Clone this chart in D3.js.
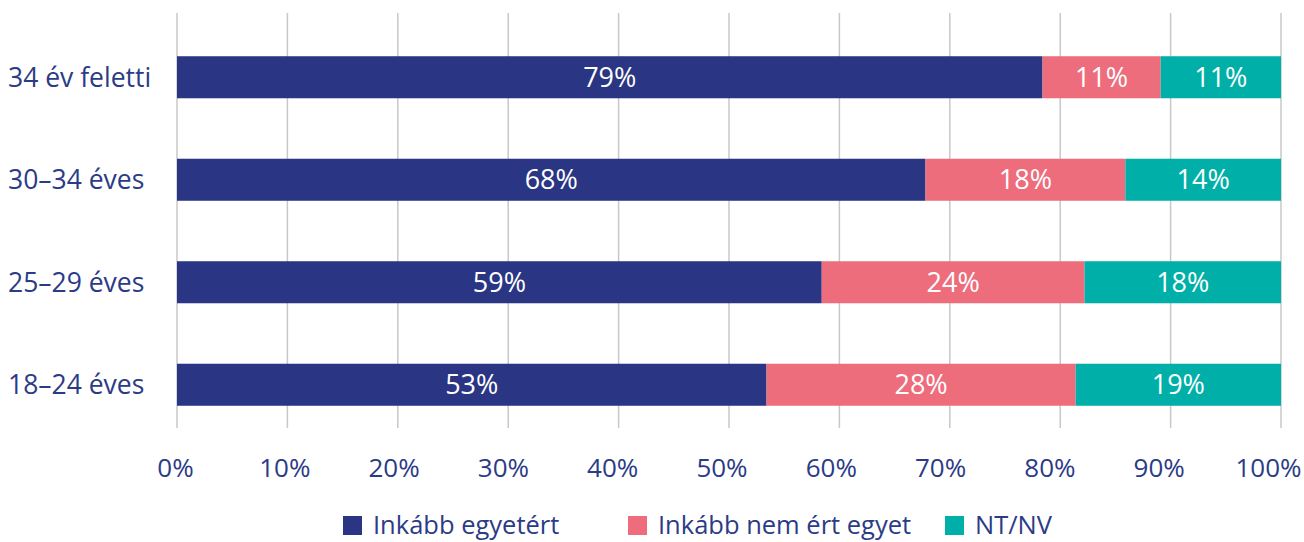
<!DOCTYPE html>
<html>
<head>
<meta charset="utf-8">
<script src="https://cdn.jsdelivr.net/npm/d3@7"></script>
<style>
  body { margin: 0; background: #fff; }
  text { font-family: "Open Sans", Lato, sans-serif; font-weight: 400; }
</style>
</head>
<body>
<svg id="chart"></svg>
<script>
// data (segment widths in %, labels as printed)
const categories = ['34 év feletti', '30–34 éves', '25–29 éves', '18–24 éves'];
const seriesNames = ['Inkább egyetért', 'Inkább nem ért egyet', 'NT/NV'];
const agree = [78.4, 67.8, 58.4, 53.4];
const disagree = [10.7, 18.1, 23.8, 28.0];
const dontKnow = [10.9, 14.1, 17.8, 18.6];
const agreeLabels = ['79%', '68%', '59%', '53%'];
const disagreeLabels = ['11%', '18%', '24%', '28%'];
const dontKnowLabels = ['11%', '14%', '18%', '19%'];
const tickValues = [0, 10, 20, 30, 40, 50, 60, 70, 80, 90, 100];

const colors = ['#2a3583', '#ed6d7d', '#00b0a8'];
const textColor = '#2b3b86';

const width = 1304, height = 542;
const svg = d3.select('#chart').attr('width', width).attr('height', height);

const x = d3.scaleLinear().domain([0, 100]).range([177, 1281]);
// tick labels sit slightly tighter than the gridlines so 100% fits
const xLabel = d3.scaleLinear().domain([0, 100]).range([175, 1268]);
const y = d3.scaleBand().domain(categories).range([26, 436])
    .paddingInner(0.59).paddingOuter(0.295);

// vertical gridlines
svg.append('g').selectAll('line')
    .data(tickValues)
    .join('line')
    .attr('x1', d => x(d)).attr('x2', d => x(d))
    .attr('y1', 13).attr('y2', 428)
    .attr('stroke', '#c8c8c8')
    .attr('stroke-width', 1.5);

// stacked rows
const rows = categories.map((c, i) => ({
    cat: c,
    vals: [agree[i], disagree[i], dontKnow[i]],
    labels: [agreeLabels[i], disagreeLabels[i], dontKnowLabels[i]]
}));

const segs = [];
rows.forEach(r => {
    let start = 0;
    r.vals.forEach((v, k) => {
        segs.push({cat: r.cat, x0: start, x1: start + v, k: k, label: r.labels[k]});
        start += v;
    });
});

svg.append('g').selectAll('rect')
    .data(segs)
    .join('rect')
    .attr('x', d => x(d.x0))
    .attr('y', d => y(d.cat))
    .attr('width', d => x(d.x1) - x(d.x0))
    .attr('height', y.bandwidth())
    .attr('fill', d => colors[d.k]);

svg.append('g').selectAll('text')
    .data(segs)
    .join('text')
    .attr('x', d => (x(d.x0) + x(d.x1)) / 2)
    .attr('y', d => y(d.cat) + y.bandwidth() / 2)
    .attr('dy', '0.36em')
    .attr('text-anchor', 'middle')
    .attr('fill', '#fff')
    .style('font-size', '27px')
    .text(d => d.label);

// category labels
svg.append('g').selectAll('text')
    .data(categories)
    .join('text')
    .attr('x', 8)
    .attr('y', d => y(d) + y.bandwidth() / 2)
    .attr('dy', '0.36em')
    .attr('fill', textColor)
    .style('font-size', '26.5px')
    .text(d => d);

// x axis labels
const xAxis = d3.axisBottom(xLabel).tickValues(tickValues).tickFormat(d => d + '%').tickSize(0).tickPadding(0);
const gx = svg.append('g').attr('transform', 'translate(0,459)').call(xAxis);
gx.select('.domain').remove();
gx.selectAll('text')
    .attr('fill', textColor)
    .style('font-family', '"Open Sans", Lato, sans-serif')
    .style('font-size', '26px');

// legend
const legendX = [343, 628, 945];
const legend = svg.append('g').selectAll('g')
    .data(seriesNames)
    .join('g')
    .attr('transform', (d, i) => `translate(${legendX[i]},516)`);
legend.append('rect')
    .attr('width', 19).attr('height', 19)
    .attr('fill', (d, i) => colors[i]);
legend.append('text')
    .attr('x', 30).attr('y', 9.5)
    .attr('dy', '0.34em')
    .attr('fill', textColor)
    .style('font-size', '25.5px')
    .text(d => d);
</script>
</body>
</html>
